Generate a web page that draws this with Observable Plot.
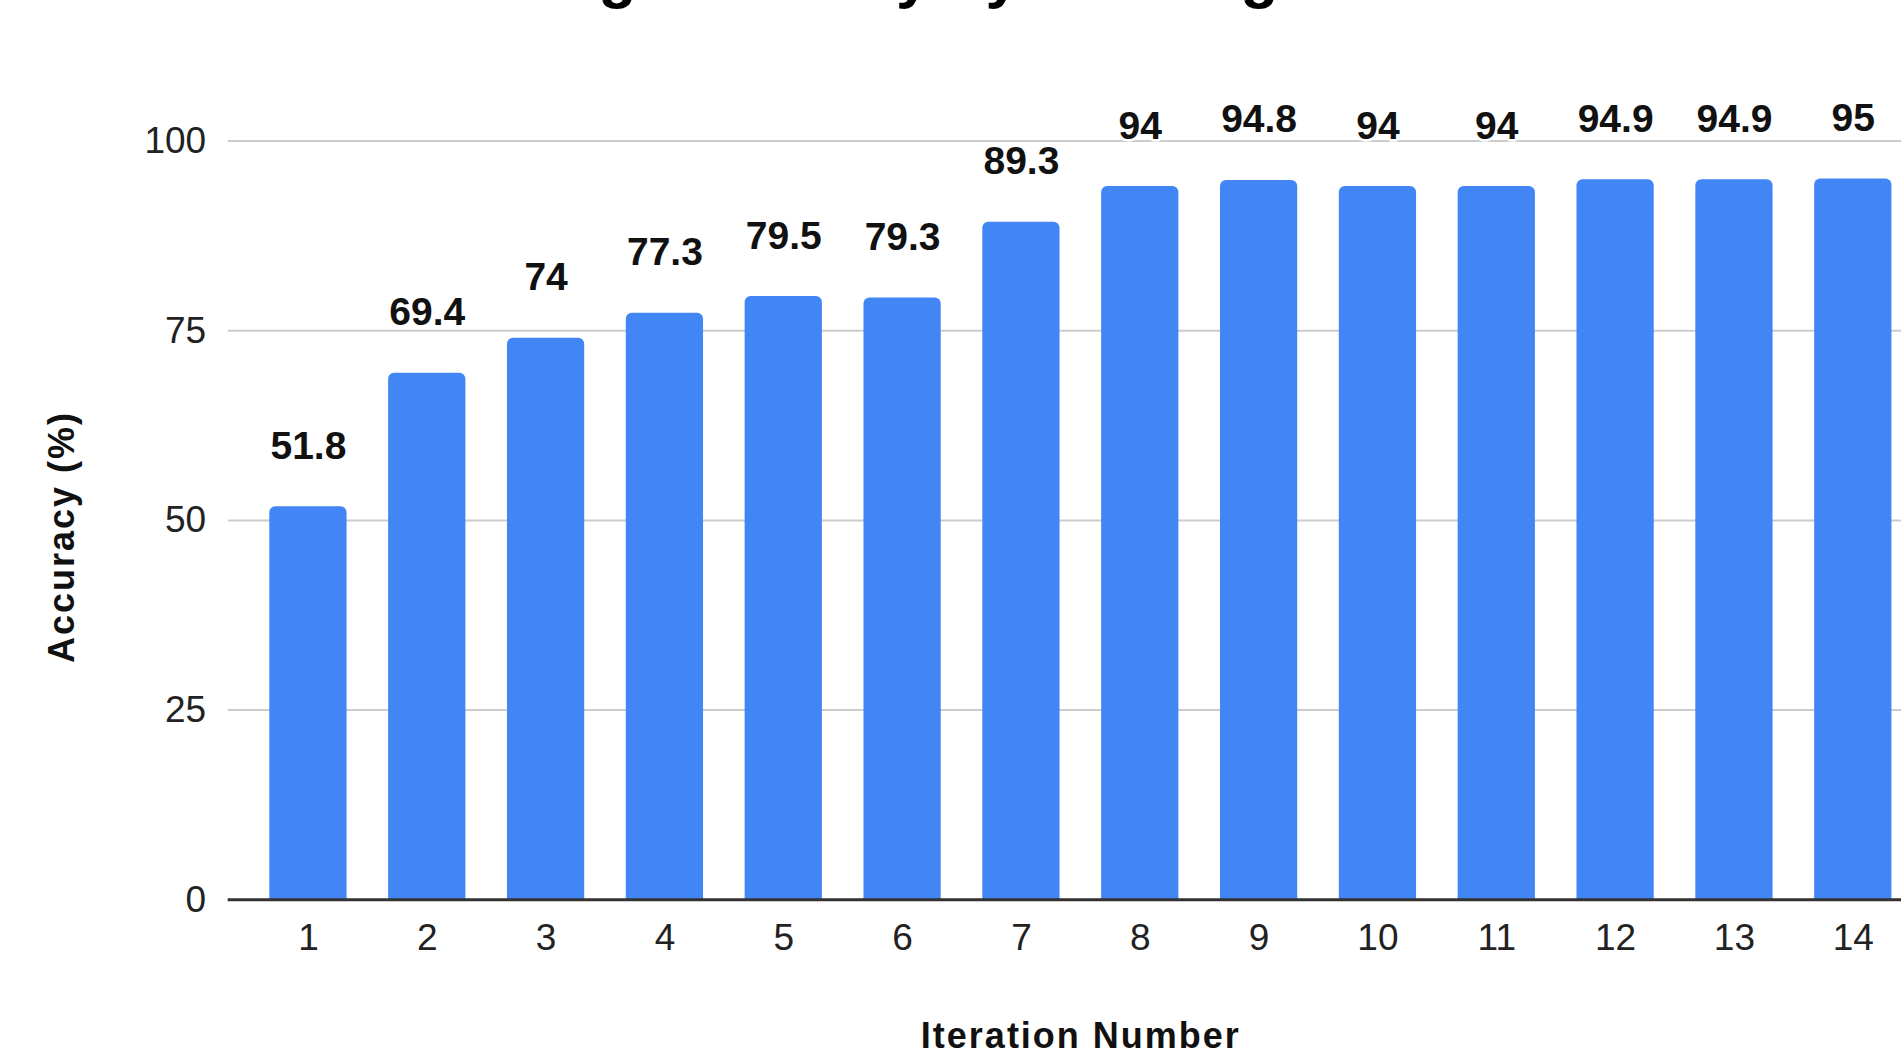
<!DOCTYPE html>
<html><head><meta charset="utf-8">
<script src="https://cdn.jsdelivr.net/npm/d3@7"></script>
<script src="https://cdn.jsdelivr.net/npm/@observablehq/plot@0.6"></script>
<style>
html,body{margin:0;padding:0;background:#fff;overflow:hidden;width:1901px;height:1053px;}
#wrap{position:relative;width:1901px;height:1053px;overflow:hidden;background:#fff;}
#chart{position:absolute;left:0;top:0;width:1933px;}
</style></head><body>
<div id="wrap"><div id="chart"></div></div>
<script>
const iterations = ["1","2","3","4","5","6","7","8","9","10","11","12","13","14"];
const accuracy = [51.8, 69.4, 74, 77.3, 79.5, 79.3, 89.3, 94, 94.8, 94, 94, 94.9, 94.9, 95];
const yTicks = [0, 25, 50, 75, 100];
const titleText = "Testing Accuracy by Training Iteration";
const xTitle = "Iteration Number";
const yTitle = "Accuracy (%)";

const data = iterations.map((it, i) => ({iteration: it, accuracy: accuracy[i]}));
const font = '"Liberation Sans", Arial, sans-serif';

const chart = Plot.plot({
  width: 1933,
  height: 1053,
  marginLeft: 227.7,
  marginRight: 0,
  marginTop: 140.5,
  marginBottom: 153.7,
  style: {fontFamily: font, fontSize: "37px", background: "#fff", color: "#222", overflow: "visible", maxWidth: "none"},
  x: {domain: iterations, padding: 0.35, round: false, label: null},
  y: {domain: [0, 100], label: null},
  marks: [
    Plot.gridY(yTicks, {stroke: "#cccccc", strokeWidth: 2, strokeOpacity: 1}),
    Plot.axisY(yTicks, {tickSize: 0, tickPadding: 22, label: null, fill: "#222"}),
    Plot.axisX({tickSize: 0, tickPadding: 24, label: null, fill: "#222"}),
    Plot.barY(data, {x: "iteration", y: "accuracy", fill: "#4285F4", ry1: 6}),
    Plot.ruleY([0], {stroke: "#333", strokeWidth: 3}),
    Plot.text(data, {x: "iteration", y: "accuracy", text: d => String(d.accuracy),
      lineAnchor: "bottom", dy: -48, fontSize: 39, fontWeight: "bold", fill: "#111",
      stroke: "white", strokeWidth: 5, paintOrder: "stroke"}),
    Plot.text([titleText], {frameAnchor: "top", textAnchor: "middle", lineAnchor: "bottom",
      dx: -100.5, dy: -145.5, fontSize: 62, fontWeight: "bold", fill: "#000"}),
    Plot.text([xTitle], {frameAnchor: "bottom", textAnchor: "middle", dy: 148, lineAnchor: "bottom",
      fontSize: 36, fontWeight: "bold", fill: "#111"}),
    Plot.text([yTitle], {frameAnchor: "left", textAnchor: "middle", rotate: -90, dx: -154, dy: 16.6,
      lineAnchor: "bottom", fontSize: 36, fontWeight: "bold", fill: "#111"})
  ]
});
d3.select(chart).selectAll("text")
  .filter(function() { return this.textContent === xTitle || this.textContent === yTitle; })
  .style("letter-spacing", "2px");
document.getElementById("chart").appendChild(chart);
</script>
</body></html>
